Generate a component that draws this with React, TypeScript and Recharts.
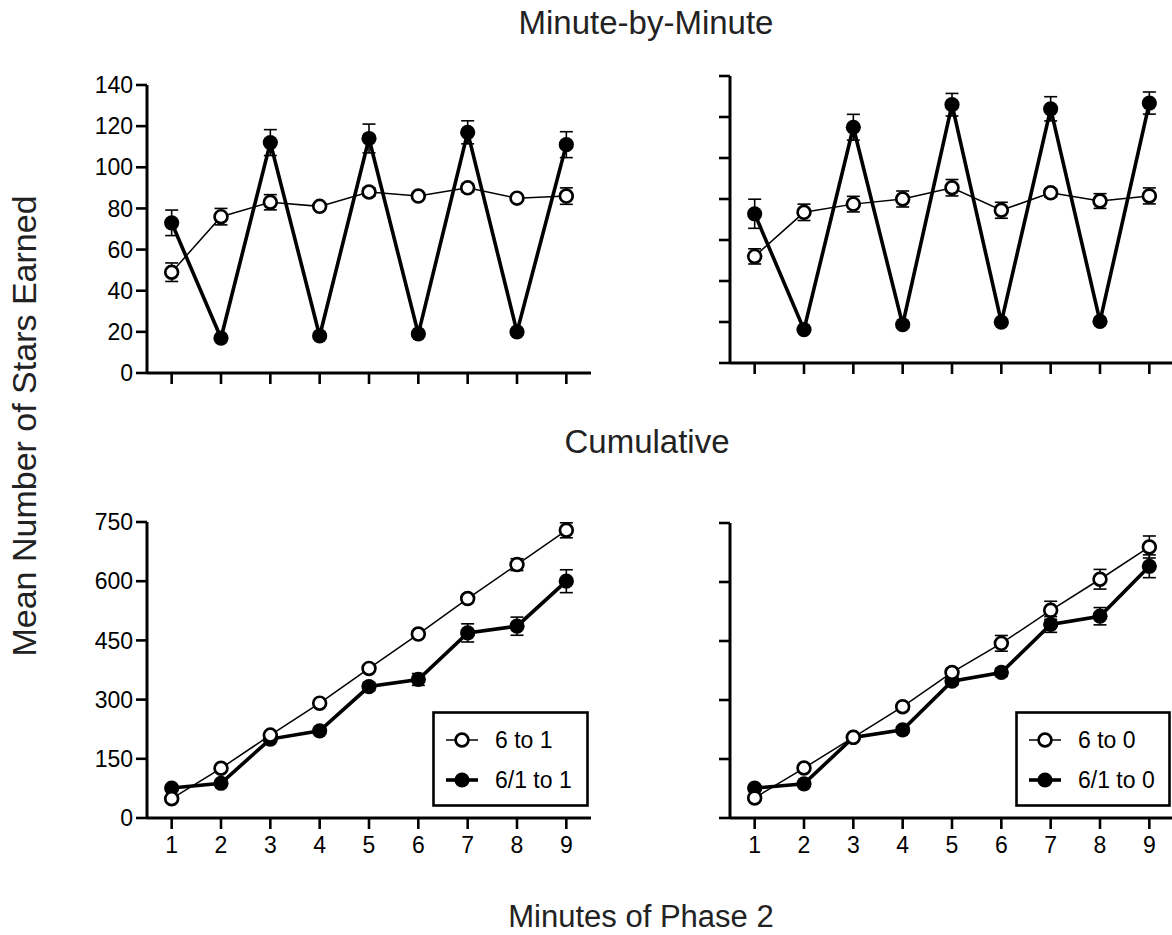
import { LineChart, Line, XAxis, YAxis, ErrorBar } from "recharts";

const FONT = "'Liberation Sans', Arial, Helvetica, sans-serif";
const INK = "#000";
const TEXT = "#222";

const minutes = [1, 2, 3, 4, 5, 6, 7, 8, 9];
const xTicks = [1, 2, 3, 4, 5, 6, 7, 8, 9];
const minuteTicks = [0, 20, 40, 60, 80, 100, 120, 140];
const cumTicks = [0, 150, 300, 450, 600, 750];

// minute-by-minute, left panel (6 to 1 vs 6/1 to 1)
const mbmOpenLeft = [49, 76, 83, 81, 88, 86, 90, 85, 86];
const mbmOpenLeftErr = [4.5, 4, 3.7, 1.5, 2, 1.5, 2, 1.5, 4];
const mbmFilledLeft = [73, 17, 112, 18, 114, 19, 117, 20, 111];
const mbmFilledLeftErr = [6.2, 1, 6.3, 1, 7, 1, 5.6, 1, 6.3];

// minute-by-minute, right panel (6 to 0 vs 6/1 to 0)
const mbmOpenRight = [52, 73.5, 77.5, 80, 85.5, 74.5, 83, 79, 81.5];
const mbmOpenRightErr = [3.7, 4, 3.8, 3.9, 4, 3.9, 2, 3.6, 3.9];
const mbmFilledRight = [72.8, 16.3, 115, 18.7, 126, 19.9, 124, 20.3, 126.8];
const mbmFilledRightErr = [7.1, 1, 6.3, 1, 5.5, 1, 5.9, 1, 5.4];

// cumulative, left panel
const cumOpenLeft = [49, 126, 210, 291, 379, 466, 556, 642, 729];
const cumOpenLeftErr = [3, 6, 6, 6, 8, 8, 10, 15, 19];
const cumFilledLeft = [76, 88, 200, 221, 333, 351, 469, 486, 600];
const cumFilledLeftErr = [4, 5, 6, 8, 10, 15, 23, 23, 29];

// cumulative, right panel
const cumOpenRight = [51, 127, 205, 283, 370, 444, 528, 607, 689];
const cumOpenRightErr = [3, 6, 6, 8, 10, 20, 23, 25, 28];
const cumFilledRight = [76, 87, 205, 224, 348, 370, 492, 513, 640];
const cumFilledRightErr = [4, 5, 6, 8, 10, 10, 20, 22, 29];

const buildRows = (open: number[], openErr: number[], filled: number[], filledErr: number[]) =>
  minutes.map((m, i) => ({
    minute: m,
    open: open[i],
    openErr: openErr[i],
    filled: filled[i],
    filledErr: filledErr[i],
  }));

const openDot = (props: any) => (
  <circle
    key={`o-${props.index}`}
    cx={props.cx}
    cy={props.cy}
    r={6.4}
    fill="#fff"
    stroke={INK}
    strokeWidth={2.7}
  />
);

const filledDot = (props: any) => (
  <circle key={`f-${props.index}`} cx={props.cx} cy={props.cy} r={7.6} fill={INK} />
);

interface PanelProps {
  left: number;
  top: number;
  width: number;
  height: number;
  marginTop: number;
  marginRight: number;
  xAxisHeight: number;
  data: any[];
  yMax: number;
  yTicks: number[];
  showYLabels: boolean;
  showXLabels: boolean;
}

const Panel = ({
  left,
  top,
  width,
  height,
  marginTop,
  marginRight,
  xAxisHeight,
  data,
  yMax,
  yTicks,
  showYLabels,
  showXLabels,
}: PanelProps) => (
  <div style={{ position: "absolute", left, top, width, height }}>
    <LineChart
      width={width}
      height={height}
      data={data}
      margin={{ top: marginTop, right: marginRight, bottom: 0, left: 0 }}
    >
      <XAxis
        dataKey="minute"
        type="number"
        domain={[0.5, 9.5]}
        ticks={xTicks}
        height={xAxisHeight}
        axisLine={{ stroke: INK, strokeWidth: 3 }}
        tickLine={{ stroke: INK, strokeWidth: 2.6 }}
        tickSize={11}
        tickMargin={8}
        tick={{ fontSize: 23, fill: INK, fontFamily: FONT }}
        tickFormatter={(v) => (showXLabels ? String(v) : "")}
        allowDataOverflow
      />
      <YAxis
        type="number"
        domain={[0, yMax]}
        ticks={yTicks}
        width={147}
        axisLine={{ stroke: INK, strokeWidth: 3 }}
        tickLine={{ stroke: INK, strokeWidth: 2.6 }}
        tickSize={11}
        tickMargin={3}
        tick={{ fontSize: 23, fill: INK, fontFamily: FONT }}
        tickFormatter={(v) => (showYLabels ? String(v) : "")}
        interval={0}
      />
      {/* error bars first so the markers sit on top of them */}
      <Line dataKey="filled" stroke="none" dot={false} activeDot={false} isAnimationActive={false}>
        <ErrorBar dataKey="filledErr" direction="y" width={6.5} stroke={INK} strokeWidth={1.6} />
      </Line>
      <Line dataKey="open" stroke="none" dot={false} activeDot={false} isAnimationActive={false}>
        <ErrorBar dataKey="openErr" direction="y" width={6.5} stroke={INK} strokeWidth={1.6} />
      </Line>
      <Line
        dataKey="filled"
        stroke={INK}
        strokeWidth={3.6}
        dot={filledDot}
        activeDot={false}
        isAnimationActive={false}
      />
      <Line
        dataKey="open"
        stroke={INK}
        strokeWidth={1.5}
        dot={openDot}
        activeDot={false}
        isAnimationActive={false}
      />
    </LineChart>
  </div>
);

const LegendBox = ({ left, top, width, openLabel, filledLabel }: any) => (
  <svg style={{ position: "absolute", left, top }} width={width} height={96}>
    <rect x={1.5} y={1.5} width={width - 3} height={93} fill="#fff" stroke={INK} strokeWidth={2.6} />
    <line x1={14} y1={29} x2={46} y2={29} stroke={INK} strokeWidth={1.5} />
    <circle cx={30} cy={29} r={6.4} fill="#fff" stroke={INK} strokeWidth={2.7} />
    <text x={63} y={37} fontSize={23} fontFamily={FONT} fill={INK}>
      {openLabel}
    </text>
    <line x1={14} y1={69} x2={46} y2={69} stroke={INK} strokeWidth={3.6} />
    <circle cx={30} cy={69} r={7.6} fill={INK} />
    <text x={63} y={77} fontSize={23} fontFamily={FONT} fill={INK}>
      {filledLabel}
    </text>
  </svg>
);

export default function App() {
  return (
    <div
      style={{
        position: "absolute",
        left: 0,
        top: 0,
        width: 1172,
        height: 935,
        overflow: "hidden",
        background: "#fff",
        fontFamily: FONT,
      }}
    >
      <Panel
        left={0}
        top={60}
        width={620}
        height={340}
        marginTop={25}
        marginRight={29}
        xAxisHeight={27}
        data={buildRows(mbmOpenLeft, mbmOpenLeftErr, mbmFilledLeft, mbmFilledLeftErr)}
        yMax={140}
        yTicks={minuteTicks}
        showYLabels
        showXLabels={false}
      />
      <Panel
        left={583}
        top={56}
        width={600}
        height={340}
        marginTop={20}
        marginRight={9}
        xAxisHeight={33}
        data={buildRows(mbmOpenRight, mbmOpenRightErr, mbmFilledRight, mbmFilledRightErr)}
        yMax={140}
        yTicks={minuteTicks}
        showYLabels={false}
        showXLabels={false}
      />
      <Panel
        left={0}
        top={500}
        width={620}
        height={370}
        marginTop={22}
        marginRight={29}
        xAxisHeight={52}
        data={buildRows(cumOpenLeft, cumOpenLeftErr, cumFilledLeft, cumFilledLeftErr)}
        yMax={750}
        yTicks={cumTicks}
        showYLabels
        showXLabels
      />
      <Panel
        left={583}
        top={500}
        width={600}
        height={370}
        marginTop={23}
        marginRight={9}
        xAxisHeight={52}
        data={buildRows(cumOpenRight, cumOpenRightErr, cumFilledRight, cumFilledRightErr)}
        yMax={750}
        yTicks={cumTicks}
        showYLabels={false}
        showXLabels
      />

      <LegendBox left={432} top={711} width={157} openLabel="6 to 1" filledLabel="6/1 to 1" />
      <LegendBox left={1015} top={711} width={156} openLabel="6 to 0" filledLabel="6/1 to 0" />

      <svg
        style={{ position: "absolute", left: 0, top: 0, pointerEvents: "none" }}
        width={1172}
        height={935}
      >
        <text x={646} y={34} textAnchor="middle" fontSize={33} fontFamily={FONT} fill={TEXT}>
          Minute-by-Minute
        </text>
        <text x={647} y={453} textAnchor="middle" fontSize={33} fontFamily={FONT} fill={TEXT}>
          Cumulative
        </text>
        <text x={641} y={927} textAnchor="middle" fontSize={31} fontFamily={FONT} fill={TEXT}>
          Minutes of Phase 2
        </text>
        <text
          x={0}
          y={0}
          transform="translate(36, 426) rotate(-90)"
          textAnchor="middle"
          fontSize={34}
          fontFamily={FONT}
          fill={TEXT}
        >
          Mean Number of Stars Earned
        </text>
      </svg>
    </div>
  );
}
